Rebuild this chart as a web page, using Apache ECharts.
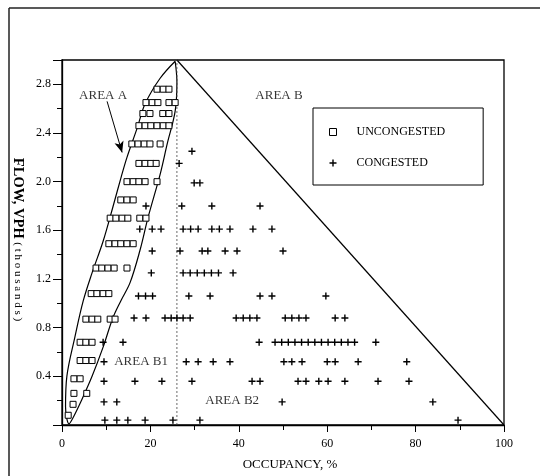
<!DOCTYPE html>
<html><head><meta charset="utf-8">
<script src="https://cdn.jsdelivr.net/npm/echarts@6/dist/echarts.min.js"></script>
<style>html,body{margin:0;padding:0;background:#fff}#c{width:540px;height:476px}</style>
</head><body><div id="c"></div>
<script>
// ---- axis ticks ----
const xTickLabels = [0, 20, 40, 60, 80, 100];
const yTickLabels = [0.4, 0.8, 1.2, 1.6, 2.0, 2.4, 2.8];

// ---- UNCONGESTED (squares): row flow level and occupancies ----
const uncongFlow = [2.76, 2.65, 2.56, 2.46, 2.31, 2.15, 2.00, 1.85, 1.70, 1.49, 1.29, 1.08, 0.87, 0.68, 0.53, 0.38, 0.26, 0.17, 0.08];
const uncongOcc = [
  [21.5, 22.9, 24.2],
  [19.0, 20.4, 21.7, 24.2, 25.6],
  [18.3, 19.9, 22.8, 24.2],
  [17.4, 18.8, 20.1, 21.5, 22.9, 24.2],
  [15.8, 17.2, 18.6, 19.9, 22.2],
  [17.4, 18.8, 20.1, 21.3],
  [14.7, 16.1, 17.4, 18.8, 21.5],
  [13.3, 14.7, 16.1],
  [10.9, 12.2, 13.6, 14.9, 17.6, 19.0],
  [10.6, 12.0, 13.3, 14.7, 16.1],
  [7.7, 9.0, 10.4, 11.8, 14.7],
  [6.6, 7.9, 9.3, 10.6],
  [5.4, 6.8, 8.1, 10.9, 12.0],
  [4.1, 5.4, 6.8],
  [4.1, 5.4, 6.8],
  [2.7, 4.1],
  [2.7, 5.6],
  [2.5],
  [1.4]
];

// ---- CONGESTED (crosses): row flow level and occupancies ----
const congFlow = [2.25, 2.15, 1.99, 1.80, 1.61, 1.43, 1.25, 1.06, 0.88, 0.68, 0.52, 0.36, 0.19, 0.04];
const congOcc = [
  [29.4],
  [26.5],
  [29.9, 31.2],
  [19.0, 27.1, 33.9, 44.8],
  [17.6, 20.4, 22.4, 27.4, 29.1, 30.8, 33.9, 35.6, 38.0, 43.2, 47.5],
  [20.4, 26.7, 31.7, 33.0, 36.9, 39.6, 50.0],
  [20.2, 27.4, 29.0, 30.6, 32.2, 33.8, 35.4, 38.7],
  [17.3, 18.9, 20.5, 28.7, 33.5, 44.8, 47.5, 59.7],
  [16.3, 19.0, 23.3, 24.7, 26.0, 27.4, 29.0, 39.4, 41.0, 42.5, 44.1, 50.5, 52.0, 53.6, 55.2, 61.8, 64.0],
  [9.3, 13.8, 44.6, 48.2, 49.7, 51.2, 52.7, 54.2, 55.7, 57.2, 58.7, 60.2, 61.7, 63.2, 64.7, 66.2, 71.0],
  [9.5, 28.1, 30.8, 34.2, 38.0, 50.2, 52.0, 54.3, 60.0, 61.8, 67.0, 78.0],
  [9.5, 16.5, 22.6, 29.4, 43.0, 44.8, 53.4, 55.2, 58.1, 60.2, 64.0, 71.5, 78.5],
  [9.5, 12.4, 49.8, 83.9],
  [9.7, 12.4, 14.9, 18.8, 25.1, 31.2, 89.6]
];

// ---- AREA A boundary ----
const ellipseOcc  = [25.6, 26.0, 25.6, 23.8, 22.2, 19.5, 17.6, 15.4, 13.3, 11.5, 9.3, 6.8, 4.5, 2.5, 1.6, 0.8, 1.1, 2.9, 4.8, 6.8, 9.3, 11.5, 13.4, 14.7, 17.0, 18.8, 22.2, 25.6];
const ellipseFlow = [2.99, 2.82, 2.58, 2.31, 2.06, 1.71, 1.43, 1.17, 1.02, 0.88, 0.64, 0.40, 0.21, 0.06, 0.01, 0.15, 0.40, 0.72, 1.02, 1.25, 1.51, 1.79, 2.04, 2.20, 2.44, 2.64, 2.85, 2.99];

// ---- triangle edge and dividing line ----
const triOcc = [26, 100];
const triFlow = [3.0, 0];
const divOcc = [26, 26];
const divFlow = [0, 3.0];

// ---- annotations ----
const areaNames = ['AREA A', 'AREA B', 'AREA B1', 'AREA B2'];
const areaOcc = [9.3, 49.1, 17.9, 38.5];
const areaFlow = [2.71, 2.71, 0.52, 0.20];
const arrowFrom = [10.2, 2.66];
const arrowTo = [13.6, 2.24];

const uncongData = [];
uncongFlow.forEach((f, i) => uncongOcc[i].forEach(o => uncongData.push([o, f])));
const congData = [];
congFlow.forEach((f, i) => congOcc[i].forEach(o => congData.push([o, f])));
const ellipseData = ellipseOcc.map((o, i) => [o, ellipseFlow[i]]);
const triData = triOcc.map((o, i) => [o, triFlow[i]]);
const divData = divOcc.map((o, i) => [o, divFlow[i]]);
const areaData = areaNames.map((n, i) => [areaOcc[i], areaFlow[i], n]);

const SERIF = 'Liberation Serif';
const plus = 'path://M4,0H6V4H10V6H6V10H4V6H0V4H4Z';

const chart = echarts.init(document.getElementById('c'), null, {renderer: 'canvas'});
chart.setOption({
  animation: false,
  backgroundColor: '#fff',
  textStyle: {fontFamily: SERIF, color: '#000'},
  grid: {left: 62, right: 36, top: 60, bottom: 47, show: true, borderColor: '#000', borderWidth: 1.3, backgroundColor: 'transparent'},
  graphic: [
    {type: 'line', shape: {x1: 9, y1: 8, x2: 540, y2: 8}, style: {stroke: '#222', lineWidth: 1.5}},
    {type: 'line', shape: {x1: 9, y1: 8, x2: 9, y2: 476}, style: {stroke: '#222', lineWidth: 1.5}}
  ],
  legend: {
    data: [
      {name: 'UNCONGESTED', icon: 'rect', itemStyle: {color: '#fff', borderColor: '#000', borderWidth: 1}},
      {name: 'CONGESTED'}
    ],
    orient: 'vertical',
    left: 313, top: 108,
    padding: [17, 38, 15, 16],
    itemGap: 17,
    itemWidth: 7, itemHeight: 7,
    borderColor: '#000', borderWidth: 1,
    textStyle: {fontFamily: SERIF, fontSize: 12, color: '#000', lineHeight: 14, padding: [0, 0, 0, 15]}
  },
  xAxis: {
    type: 'value', min: 0, max: 100, interval: 20,
    name: 'OCCUPANCY, %', nameLocation: 'middle', nameGap: 33,
    nameTextStyle: {fontFamily: SERIF, fontSize: 13, color: '#000', padding: [0, 0, 0, 14]},
    axisLine: {show: true, lineStyle: {color: '#000', width: 1.3}},
    axisTick: {show: true, inside: false, length: 7, lineStyle: {color: '#000'}},
    minorTick: {show: true, splitNumber: 2, length: 5, lineStyle: {color: '#000'}},
    splitLine: {show: false},
    axisLabel: {fontFamily: SERIF, fontSize: 12, color: '#000', margin: 13,
      formatter: v => xTickLabels.includes(v) ? String(v) : ''}
  },
  yAxis: {
    type: 'value', min: 0, max: 3.0, interval: 0.4,
    name: '{a|FLOW, VPH }{b|( t h o u s a n d s )}', nameLocation: 'middle', nameGap: 35, nameRotate: -90,
    nameTextStyle: {padding: [0, 6, 0, 0], rich: {
      a: {fontFamily: SERIF, fontSize: 14.5, fontWeight: 'bold', color: '#000'},
      b: {fontFamily: SERIF, fontSize: 11, color: '#000'}
    }},
    axisLine: {show: true, lineStyle: {color: '#000', width: 1.3}},
    axisTick: {show: true, inside: false, length: 9, lineStyle: {color: '#000'}},
    minorTick: {show: true, splitNumber: 2, length: 5, lineStyle: {color: '#000'}},
    splitLine: {show: false},
    axisLabel: {fontFamily: SERIF, fontSize: 12, color: '#000', margin: 11,
      formatter: v => yTickLabels.some(t => Math.abs(t - v) < 1e-6) ? v.toFixed(1) : ''}
  },
  series: [
    {type: 'line', name: 'areaA', data: ellipseData, smooth: 0.35, symbol: 'none', silent: true,
      lineStyle: {color: '#000', width: 1.2}, z: 3},
    {type: 'line', name: 'tri', data: triData, symbol: 'none', silent: true,
      lineStyle: {color: '#000', width: 1.2}, z: 3},
    {type: 'line', name: 'div', data: divData, symbol: 'none', silent: true,
      lineStyle: {color: '#444', width: 0.8, type: [2, 2]}, z: 3},
    {type: 'scatter', name: 'UNCONGESTED', data: uncongData, symbol: 'rect', symbolSize: [6, 6],
      itemStyle: {color: '#fff', borderColor: '#000', borderWidth: 1, opacity: 1}, z: 5},
    {type: 'scatter', name: 'CONGESTED', data: congData, symbol: plus, symbolSize: 7,
      itemStyle: {color: '#000', opacity: 1}, z: 5},
    {type: 'scatter', name: 'labels', data: areaData, symbolSize: 0, silent: true,
      label: {show: true, position: 'inside', formatter: p => p.data[2], fontFamily: SERIF, fontSize: 13, color: '#000'},
      markLine: {silent: true, symbol: ['none', 'arrow'], symbolSize: [7, 11], animation: false,
        lineStyle: {color: '#000', width: 1, type: 'solid'}, label: {show: false},
        data: [[{coord: arrowFrom}, {coord: arrowTo}]]},
      z: 6}
  ]
});
</script></body></html>
